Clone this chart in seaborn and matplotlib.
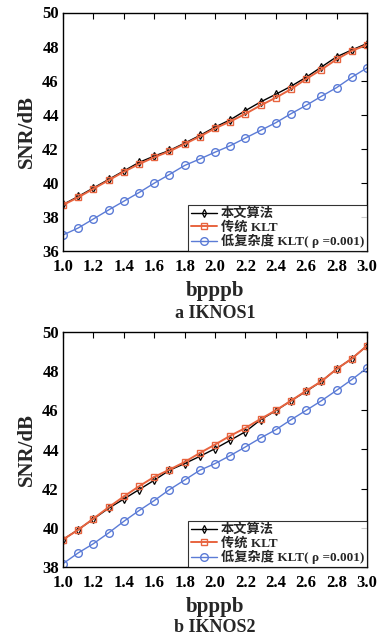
import numpy as np
import pandas as pd
import seaborn as sns
import matplotlib
matplotlib.use("Agg")
import matplotlib.pyplot as plt

sns.set_style("white")
plt.rcParams['font.family'] = ['Liberation Serif', 'Noto Sans CJK SC']
plt.rcParams['font.weight'] = 'bold'

bpp = [1.0, 1.1, 1.2, 1.3, 1.4, 1.5, 1.6, 1.7, 1.8, 1.9, 2.0,
       2.1, 2.2, 2.3, 2.4, 2.5, 2.6, 2.7, 2.8, 2.9, 3.0]

# IKNOS1
a_ours = [38.73, 39.2, 39.7, 40.2, 40.7, 41.2, 41.57, 41.9, 42.33, 42.78, 43.27,
          43.7, 44.24, 44.75, 45.2, 45.67, 46.2, 46.8, 47.4, 47.8, 48.18]
a_klt = [38.7, 39.15, 39.65, 40.15, 40.65, 41.1, 41.5, 41.85, 42.28, 42.72, 43.2,
         43.6, 44.05, 44.55, 45.0, 45.5, 46.1, 46.65, 47.25, 47.75, 48.1]
a_low = [36.94, 37.35, 37.88, 38.41, 38.92, 39.43, 39.98, 40.49, 41.02, 41.4, 41.8,
         42.18, 42.63, 43.08, 43.53, 44.06, 44.55, 45.08, 45.59, 46.2, 46.75]

# IKNOS2
b_ours = [39.4, 39.91, 40.45, 41.0, 41.47, 41.95, 42.43, 42.94, 43.28, 43.65, 44.04,
          44.47, 44.91, 45.52, 45.98, 46.49, 46.97, 47.48, 48.11, 48.64, 49.3]
b_klt = [39.4, 39.9, 40.47, 41.05, 41.6, 42.12, 42.6, 42.97, 43.36, 43.82, 44.25,
         44.7, 45.1, 45.56, 46.0, 46.49, 47.0, 47.48, 48.11, 48.64, 49.3]
b_low = [38.17, 38.72, 39.19, 39.74, 40.33, 40.88, 41.39, 41.95, 42.44, 42.94, 43.28,
         43.69, 44.13, 44.59, 45.01, 45.52, 46.0, 46.49, 47.02, 47.57, 48.16]

labels = ['本文算法', '传统 KLT', '低复杂度 KLT( ρ =0.001)']
x_ticks = [1.0, 1.2, 1.4, 1.6, 1.8, 2.0, 2.2, 2.4, 2.6, 2.8, 3.0]

RED = '#e8643f'
BLUE = '#5b7bd6'

fig = plt.figure(figsize=(3.79, 6.43), dpi=100)
W, H = 379, 643

def make_axes(top, bottom):
    return fig.add_axes([63 / W, 1 - bottom / H, 304 / W, (bottom - top) / H])

ax1 = make_axes(12.5, 251)
ax2 = make_axes(332, 567)

def draw(ax, ours, klt, low, ylim, yticks, caption, cap_y):
    sns.lineplot(x=bpp, y=ours, ax=ax, color='black', lw=1.0, marker='d',
                 markersize=4, markerfacecolor='none', markeredgecolor='black',
                 markeredgewidth=0.9, label=labels[0])
    sns.lineplot(x=bpp, y=klt, ax=ax, color=RED, lw=1.4, marker='s',
                 markersize=5, markerfacecolor='none', markeredgecolor=RED,
                 markeredgewidth=1.0, label=labels[1])
    sns.lineplot(x=bpp, y=low, ax=ax, color=BLUE, lw=1.0, marker='o',
                 markersize=5.5, markerfacecolor='none', markeredgecolor=BLUE,
                 markeredgewidth=1.0, label=labels[2])
    ax.set_xlim(1.0, 3.0)
    ax.set_ylim(*ylim)
    ax.set_xticks(x_ticks)
    ax.set_xticklabels([f'{t:.1f}' for t in x_ticks])
    ax.set_yticks(yticks)
    ax.set_yticklabels([str(t) for t in yticks])
    ax.tick_params(direction='in', length=4, width=0.8, top=True, right=True,
                   labelsize=12, colors='black')
    ax.tick_params(axis='x', pad=6)
    ax.tick_params(axis='y', pad=3)
    for lab in ax.get_xticklabels() + ax.get_yticklabels():
        lab.set_fontweight('bold')
    for s in ax.spines.values():
        s.set_color('black')
        s.set_linewidth(1.0)
    ax.set_xlabel('bpppb', fontsize=15, fontweight='bold', labelpad=4)
    ax.set_ylabel('SNR/dB', fontsize=15, fontweight='bold', labelpad=4)
    leg = ax.legend(loc='lower right', fontsize=9.5, frameon=True, fancybox=False,
                    borderpad=0.2, handlelength=2.0, handletextpad=0.3,
                    labelspacing=0.05, borderaxespad=0.0)
    leg.get_frame().set_edgecolor('black')
    leg.get_frame().set_linewidth(0.8)
    for t in leg.get_texts():
        t.set_fontweight('bold')
    fig.text(215 / W, 1 - cap_y / H, caption, ha='center', va='center',
             fontsize=13, fontweight='bold')

draw(ax1, a_ours, a_klt, a_low, (36, 50), [36, 38, 40, 42, 44, 46, 48, 50], 'a IKNOS1', 314)
draw(ax2, b_ours, b_klt, b_low, (38, 50), [38, 40, 42, 44, 46, 48, 50], 'b IKNOS2', 628)

fig.savefig('out.png', dpi=100)
